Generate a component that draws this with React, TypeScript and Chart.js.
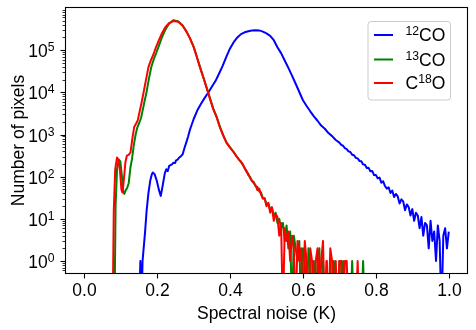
import React, { useEffect, useRef } from "react";
import { Chart, registerables } from "chart.js";

Chart.register(...registerables);

// ---- Data: [spectral noise (K), number of pixels] ----
const co12Data: [number, number][] = [
  [0.150, 0], [0.154, 1], [0.157, 0], [0.160, 1], [0.163, 2], [0.167, 5], [0.171, 15],
  [0.176, 40], [0.181, 80], [0.185, 110], [0.188, 126], [0.193, 115], [0.199, 80],
  [0.205, 48], [0.210, 35], [0.215, 60], [0.221, 120], [0.225, 150], [0.229, 135],
  [0.233, 180], [0.238, 190], [0.242, 200], [0.245, 215], [0.249, 210], [0.252, 245],
  [0.256, 255], [0.260, 280], [0.266, 310], [0.270, 340], [0.275, 480], [0.280, 650],
  [0.285, 900], [0.290, 1300], [0.300, 2300], [0.310, 3700], [0.320, 5300], [0.330, 7300],
  [0.340, 9800], [0.350, 13500], [0.360, 18500], [0.370, 28000], [0.380, 43000],
  [0.390, 70000], [0.400, 110000], [0.410, 155000], [0.420, 200000], [0.430, 240000],
  [0.440, 265000], [0.450, 282000], [0.460, 293000], [0.470, 298000], [0.480, 294000],
  [0.490, 275000], [0.500, 250000], [0.510, 219000], [0.520, 172000], [0.530, 117000],
  [0.540, 85000], [0.550, 57000], [0.560, 38000], [0.570, 25000], [0.580, 16000],
  [0.590, 10200], [0.600, 6500], [0.610, 4750], [0.620, 3550], [0.630, 2700],
  [0.640, 2120], [0.650, 1630], [0.660, 1370], [0.670, 1080], [0.680, 915], [0.690, 740],
  [0.700, 641], [0.705, 566], [0.710, 541], [0.715, 474], [0.720, 452], [0.725, 399],
  [0.730, 384], [0.735, 331], [0.740, 322], [0.745, 280], [0.750, 271], [0.755, 236],
  [0.760, 231], [0.765, 196], [0.770, 191], [0.775, 161], [0.780, 162], [0.785, 134],
  [0.790, 137], [0.795, 109], [0.800, 110], [0.805, 92], [0.810, 95], [0.815, 72],
  [0.820, 78], [0.825, 60], [0.830, 52], [0.835, 56], [0.840, 41], [0.845, 47],
  [0.850, 33], [0.855, 39], [0.860, 34], [0.865, 23], [0.870, 29], [0.875, 26],
  [0.880, 16], [0.885, 22], [0.890, 19], [0.895, 12], [0.900, 17], [0.905, 9],
  [0.910, 14], [0.915, 12], [0.920, 6], [0.925, 11], [0.930, 4], [0.935, 8],
  [0.940, 7], [0.945, 2], [0.950, 9], [0.955, 3], [0.960, 5], [0.965, 1],
  [0.970, 7], [0.975, 3], [0.980, 0], [0.985, 4], [0.990, 6], [0.995, 2], [1.000, 5],
];

const co13Data: [number, number][] = [
  [0.083, 0], [0.086, 20], [0.090, 150], [0.095, 255], [0.099, 230], [0.103, 110],
  [0.107, 45], [0.110, 39], [0.114, 48], [0.118, 55], [0.122, 70], [0.127, 170],
  [0.131, 260], [0.136, 560], [0.141, 1000], [0.146, 1500], [0.151, 1900], [0.156, 2500],
  [0.161, 4000], [0.166, 6500], [0.170, 9100], [0.177, 20000], [0.184, 40000],
  [0.191, 62000], [0.198, 88000], [0.205, 128000], [0.213, 200000], [0.222, 300000],
  [0.233, 430000], [0.245, 515000], [0.258, 480000], [0.270, 385000], [0.281, 272000],
  [0.290, 193000], [0.300, 122000], [0.309, 70000], [0.318, 39000], [0.327, 22500],
  [0.336, 12800], [0.345, 7200], [0.354, 4100], [0.363, 2650], [0.372, 1550],
  [0.381, 980], [0.390, 650], [0.400, 495], [0.409, 395], [0.418, 305], [0.425, 252],
  [0.430, 220], [0.435, 198], [0.440, 158], [0.445, 140], [0.450, 109], [0.455, 99],
  [0.460, 78], [0.465, 75], [0.470, 59], [0.475, 57], [0.480, 45], [0.485, 42],
  [0.490, 31], [0.495, 30], [0.500, 22], [0.505, 23], [0.510, 17], [0.515, 18],
  [0.520, 12], [0.525, 14], [0.530, 8], [0.535, 10], [0.540, 6], [0.545, 8],
  [0.550, 3], [0.555, 7], [0.560, 2], [0.565, 5], [0.570, 0], [0.575, 4],
  [0.580, 2], [0.585, 1], [0.590, 3], [0.595, 0], [0.600, 2], [0.605, 1],
  [0.610, 0], [0.615, 2], [0.620, 1], [0.625, 0], [0.630, 1], [0.635, 0],
  [0.640, 1], [0.645, 2], [0.650, 0], [0.655, 1], [0.660, 0], [0.665, 1],
  [0.670, 0], [0.675, 1], [0.680, 0], [0.685, 1], [0.690, 0], [0.695, 0],
  [0.700, 1], [0.705, 0], [0.710, 1], [0.715, 0], [0.720, 0], [0.725, 0],
  [0.730, 0], [0.735, 1], [0.740, 0], [0.745, 0], [0.750, 0], [0.755, 0],
  [0.760, 0], [0.765, 1], [0.770, 0],
];

const c18oData: [number, number][] = [
  [0.078, 0], [0.081, 15], [0.085, 150], [0.090, 285], [0.094, 250], [0.098, 140],
  [0.102, 50], [0.105, 42], [0.109, 90], [0.113, 220], [0.117, 314], [0.122, 330],
  [0.127, 380], [0.132, 800], [0.137, 1500], [0.142, 1800], [0.147, 2200], [0.152, 3500],
  [0.157, 5500], [0.162, 9100], [0.169, 19000], [0.176, 39000], [0.183, 58000],
  [0.190, 80000], [0.197, 118000], [0.204, 166000], [0.213, 250000], [0.222, 345000],
  [0.233, 440000], [0.245, 494000], [0.258, 470000], [0.270, 380000], [0.281, 270000],
  [0.290, 190000], [0.300, 120000], [0.309, 68000], [0.318, 38000], [0.327, 22000],
  [0.336, 12500], [0.345, 7000], [0.354, 4000], [0.363, 2600], [0.372, 1500],
  [0.381, 950], [0.390, 640], [0.400, 490], [0.409, 390], [0.418, 300], [0.425, 250],
  [0.430, 228], [0.435, 190], [0.440, 163], [0.445, 131], [0.450, 118], [0.455, 92],
  [0.460, 81], [0.465, 70], [0.470, 63], [0.475, 48], [0.480, 52], [0.485, 38],
  [0.490, 30], [0.495, 31], [0.500, 20], [0.505, 24], [0.510, 14], [0.515, 19],
  [0.520, 9], [0.525, 13], [0.530, 11], [0.535, 4], [0.540, 8], [0.545, 0],
  [0.550, 6], [0.555, 3], [0.560, 5], [0.565, 1], [0.570, 4], [0.575, 2],
  [0.580, 0], [0.585, 3], [0.590, 1], [0.595, 2], [0.600, 0], [0.605, 3],
  [0.610, 1], [0.615, 0], [0.620, 2], [0.625, 1], [0.630, 0], [0.635, 1],
  [0.640, 2], [0.645, 0], [0.650, 1], [0.655, 3], [0.660, 0], [0.665, 1],
  [0.670, 0], [0.675, 2], [0.680, 1], [0.685, 0], [0.690, 1], [0.695, 0],
  [0.700, 1], [0.705, 1], [0.710, 0], [0.715, 1], [0.720, 1], [0.725, 0],
  [0.745, 0], [0.750, 1], [0.755, 0],
];

// ---- Axis ticks / labels ----
const xTickValues = [0, 0.2, 0.4, 0.6, 0.8, 1.0];
const xTickLabels = ["0.0", "0.2", "0.4", "0.6", "0.8", "1.0"];
const yTickValues = [1, 10, 100, 1000, 10000, 100000];
const yTickExponents = ["0", "1", "2", "3", "4", "5"];
const xTitle = "Spectral noise (K)";
const yTitle = "Number of pixels";

// legend: prefix, superscript, suffix
const legendPre = ["", "", "C"];
const legendSup = ["12", "13", "18"];
const legendPost = ["CO", "CO", "O"];
const seriesColors = ["#0000ff", "#008000", "#ff0000"];

const FF = "'Liberation Sans', Arial, Helvetica, sans-serif";
const FS = 17.5;
const SFS = 12.2;
const SUP_RAISE = 6;
const ZERO_FLOOR = 0.05; // empty bins fall below the axis (like log(0) in matplotlib)

const toPoints = (pairs: [number, number][]) =>
  pairs.map(([x, y]) => ({ x, y: y > 0 ? y : ZERO_FLOOR }));

const decorPlugin = {
  id: "mplDecor",
  afterDatasetsDraw(chart: any) {
    const { ctx, chartArea: a, scales } = chart;
    const xs = scales.x;
    const ys = scales.y;
    const L = Math.round(a.left) - 0.5;
    const R = Math.round(a.right) + 0.5;
    const T = Math.round(a.top) - 0.5;
    const B = Math.round(a.bottom) + 0.5;
    ctx.save();
    ctx.fillStyle = "#000";
    ctx.strokeStyle = "#000";

    // frame
    ctx.lineWidth = 1.1;
    ctx.strokeRect(L, T, R - L, B - T);

    // x ticks + labels
    ctx.font = `${FS}px ${FF}`;
    ctx.textAlign = "center";
    ctx.textBaseline = "alphabetic";
    xTickValues.forEach((v, i) => {
      const px = Math.round(xs.getPixelForValue(v)) + 0.5;
      ctx.beginPath();
      ctx.moveTo(px, B);
      ctx.lineTo(px, B + 5);
      ctx.stroke();
      ctx.fillText(xTickLabels[i], px, B + 22);
    });

    // y minor ticks
    ctx.lineWidth = 0.8;
    const yMin = ys.min;
    const yMax = ys.max;
    for (let e = -1; e <= 6; e++) {
      for (let m = 2; m <= 9; m++) {
        const v = m * Math.pow(10, e);
        if (v < yMin || v > yMax) continue;
        const py = Math.round(ys.getPixelForValue(v)) + 0.5;
        ctx.beginPath();
        ctx.moveTo(L, py);
        ctx.lineTo(L - 3, py);
        ctx.stroke();
      }
    }

    // y major ticks + labels (10^n)
    ctx.lineWidth = 1.1;
    ctx.textAlign = "left";
    yTickValues.forEach((v, i) => {
      const py = Math.round(ys.getPixelForValue(v)) + 0.5;
      ctx.beginPath();
      ctx.moveTo(L, py);
      ctx.lineTo(L - 5, py);
      ctx.stroke();
      ctx.font = `${SFS}px ${FF}`;
      const wSup = ctx.measureText(yTickExponents[i]).width;
      ctx.font = `${FS}px ${FF}`;
      const wBase = ctx.measureText("10").width;
      const right = L - 11;
      const x0 = right - wSup - wBase;
      const baseline = py + 0.358 * FS;
      ctx.fillText("10", x0, baseline);
      ctx.font = `${SFS}px ${FF}`;
      ctx.fillText(yTickExponents[i], x0 + wBase, baseline - SUP_RAISE);
    });

    // axis titles
    ctx.font = `${FS}px ${FF}`;
    ctx.textAlign = "center";
    ctx.fillText(xTitle, (a.left + a.right) / 2, B + 45);
    ctx.save();
    ctx.translate(24, (a.top + a.bottom) / 2);
    ctx.rotate(-Math.PI / 2);
    ctx.fillText(yTitle, 0, 0);
    ctx.restore();

    // legend
    const boxL = a.right - 99;
    const boxT = a.top + 13.5;
    const boxW = 82.5;
    const boxH = 78.5;
    ctx.beginPath();
    const r = 3;
    ctx.moveTo(boxL + r, boxT);
    ctx.arcTo(boxL + boxW, boxT, boxL + boxW, boxT + boxH, r);
    ctx.arcTo(boxL + boxW, boxT + boxH, boxL, boxT + boxH, r);
    ctx.arcTo(boxL, boxT + boxH, boxL, boxT, r);
    ctx.arcTo(boxL, boxT, boxL + boxW, boxT, r);
    ctx.closePath();
    ctx.fillStyle = "rgba(255,255,255,0.8)";
    ctx.fill();
    ctx.strokeStyle = "#cccccc";
    ctx.lineWidth = 1;
    ctx.stroke();

    const rowY = [boxT + 13.5, boxT + 38, boxT + 61.5];
    ctx.textAlign = "left";
    for (let i = 0; i < 3; i++) {
      const y = rowY[i];
      ctx.strokeStyle = seriesColors[i];
      ctx.lineWidth = 2;
      ctx.beginPath();
      ctx.moveTo(boxL + 6, y);
      ctx.lineTo(boxL + 25, y);
      ctx.stroke();
      ctx.fillStyle = "#000";
      let tx = boxL + 37.5;
      const baseline = y + 0.358 * FS;
      ctx.font = `${FS}px ${FF}`;
      if (legendPre[i]) {
        ctx.fillText(legendPre[i], tx, baseline);
        tx += ctx.measureText(legendPre[i]).width;
      }
      ctx.font = `${SFS}px ${FF}`;
      ctx.fillText(legendSup[i], tx, baseline - SUP_RAISE);
      tx += ctx.measureText(legendSup[i]).width;
      ctx.font = `${FS}px ${FF}`;
      ctx.fillText(legendPost[i], tx, baseline);
    }
    ctx.restore();
  },
};

export default function App() {
  const ref = useRef<HTMLCanvasElement>(null);
  useEffect(() => {
    document.body.style.margin = "0";
    const canvas = ref.current;
    if (!canvas) return;
    const mk = (data: [number, number][], color: string, order: number) => ({
      data: toPoints(data),
      borderColor: color,
      backgroundColor: color,
      borderWidth: 2,
      pointRadius: 0,
      fill: false,
      tension: 0,
      borderJoinStyle: "round" as const,
      order,
    });
    const chart = new Chart(canvas, {
      type: "line",
      data: {
        datasets: [
          mk(co12Data, seriesColors[0], 2),
          mk(co13Data, seriesColors[1], 1),
          mk(c18oData, seriesColors[2], 0),
        ],
      },
      options: {
        animation: false,
        responsive: false,
        devicePixelRatio: 1,
        events: [],
        layout: { padding: { left: 66, top: 8, right: 9, bottom: 57 } },
        plugins: { legend: { display: false }, tooltip: { enabled: false } },
        scales: {
          x: {
            type: "linear",
            min: -0.05,
            max: 1.05,
            ticks: { display: false },
            grid: { display: false },
            border: { display: false },
            afterFit: (s: any) => { s.height = 0; },
          },
          y: {
            type: "logarithmic",
            min: 0.52,
            max: 1.0e6,
            ticks: { display: false },
            grid: { display: false },
            border: { display: false },
            afterFit: (s: any) => { s.width = 0; },
          },
        },
      },
      plugins: [decorPlugin],
    });
    return () => chart.destroy();
  }, []);
  return (
    <div style={{ width: 476, height: 330 }}>
      <canvas ref={ref} width={476} height={330} style={{ display: "block", width: 476, height: 330 }} />
    </div>
  );
}
